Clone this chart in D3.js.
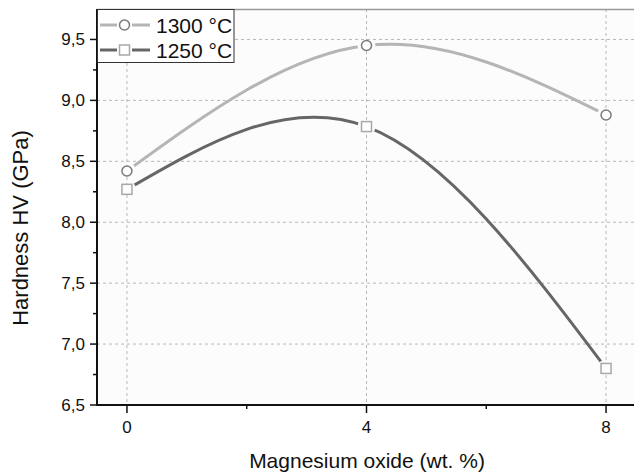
<!DOCTYPE html>
<html><head><meta charset="utf-8">
<script src="https://cdn.jsdelivr.net/npm/d3@7"></script>
<style>body{margin:0;background:#fff}svg{display:block;font-family:"Liberation Sans",Arial,sans-serif}</style>
</head><body>
<svg id="c" width="634" height="472"></svg>
<script>
const xValues = [0, 4, 8];
const series1300 = [8.42, 9.45, 8.88];
const series1250 = [8.27, 8.785, 6.80];
const seriesNames = ["1300 °C", "1250 °C"];
const xTicks = [0, 4, 8];
const xMinorTicks = [2, 6];
const yTicks = [6.5, 7.0, 7.5, 8.0, 8.5, 9.0, 9.5];
const yMinorTicks = [6.75, 7.25, 7.75, 8.25, 8.75, 9.25];
const xTitle = "Magnesium oxide (wt. %)";
const yTitle = "Hardness HV (GPa)";

const svg = d3.select("#c");
const L = 97, R = 636, T = 9, B = 405;
const x = d3.scaleLinear().domain([-0.5, 8.5]).range([L, R]);
const y = d3.scaleLinear().domain([6.5, 9.75]).range([B, T]);
const fmt = d => d3.format(".1f")(d).replace(".", ",");

// plot background
svg.append("rect").attr("x", L).attr("y", T).attr("width", 634 - L).attr("height", B - T).attr("fill", "#fcfcfc");

// grid
const grid = svg.append("g").attr("stroke", "#b8b8b8").attr("stroke-width", 1).attr("stroke-dasharray", "3,3");
yTicks.filter(v => v > 6.5).forEach(v => grid.append("line").attr("x1", L).attr("x2", 634).attr("y1", y(v)).attr("y2", y(v)));
xTicks.forEach(v => grid.append("line").attr("x1", x(v)).attr("x2", x(v)).attr("y1", T).attr("y2", B));

// top frame
svg.append("line").attr("x1", L).attr("x2", 634).attr("y1", T + 0.5).attr("y2", T + 0.5).attr("stroke", "#999").attr("stroke-width", 1.5);

// mask for gaps around markers
const defs = svg.append("defs");
const mask = defs.append("mask").attr("id", "gap").attr("maskUnits", "userSpaceOnUse")
  .attr("x", 0).attr("y", 0).attr("width", 634).attr("height", 472);
mask.append("rect").attr("width", 634).attr("height", 472).attr("fill", "#fff");
[series1300, series1250].forEach(s => s.forEach((v, i) =>
  mask.append("circle").attr("cx", x(xValues[i])).attr("cy", y(v)).attr("r", 9).attr("fill", "#000")));

const line = d3.line().curve(d3.curveNatural).x((d, i) => x(xValues[i])).y(d => y(d));
const lg = svg.append("g").attr("mask", "url(#gap)");
lg.append("path").attr("d", line(series1300)).attr("fill", "none").attr("stroke", "#b5b5b5").attr("stroke-width", 3);
lg.append("path").attr("d", line(series1250)).attr("fill", "none").attr("stroke", "#666").attr("stroke-width", 3);

// markers
series1300.forEach((v, i) => svg.append("circle").attr("cx", x(xValues[i])).attr("cy", y(v)).attr("r", 5)
  .attr("fill", "#fdfdfd").attr("stroke", "#7a7a7a").attr("stroke-width", 1.5));
series1250.forEach((v, i) => svg.append("rect").attr("x", x(xValues[i]) - 5).attr("y", y(v) - 5).attr("width", 10).attr("height", 10)
  .attr("fill", "#fdfdfd").attr("stroke", "#a8a8a8").attr("stroke-width", 1.5));

// axes
const ax = svg.append("g").attr("stroke", "#111");
ax.append("line").attr("x1", L).attr("x2", L).attr("y1", T).attr("y2", B + 1).attr("stroke-width", 2);
ax.append("line").attr("x1", L - 1).attr("x2", 634).attr("y1", B).attr("y2", B).attr("stroke-width", 2);
yTicks.forEach(v => ax.append("line").attr("x1", L - 7).attr("x2", L).attr("y1", y(v)).attr("y2", y(v)).attr("stroke-width", 1.5));
yMinorTicks.forEach(v => ax.append("line").attr("x1", L - 4).attr("x2", L).attr("y1", y(v)).attr("y2", y(v)).attr("stroke-width", 1.5));
xTicks.forEach(v => ax.append("line").attr("x1", x(v)).attr("x2", x(v)).attr("y1", B).attr("y2", B + 8).attr("stroke-width", 1.5));
xMinorTicks.forEach(v => ax.append("line").attr("x1", x(v)).attr("x2", x(v)).attr("y1", B).attr("y2", B + 4).attr("stroke-width", 1.5));

const tl = svg.append("g").attr("fill", "#111").attr("font-size", 17);
yTicks.forEach(v => tl.append("text").attr("x", L - 12).attr("y", y(v) + 6).attr("text-anchor", "end").text(fmt(v)));
xTicks.forEach(v => tl.append("text").attr("x", x(v)).attr("y", B + 28).attr("text-anchor", "middle").text(v));

svg.append("text").attr("x", 367).attr("y", 468).attr("text-anchor", "middle").attr("font-size", 21).attr("fill", "#111").text(xTitle);
svg.append("text").attr("transform", "translate(28,228) rotate(-90)").attr("text-anchor", "middle").attr("font-size", 22).attr("fill", "#111").text(yTitle);

// legend
const leg = svg.append("g");
leg.append("rect").attr("x", 97.5).attr("y", 9.5).attr("width", 136.5).attr("height", 53).attr("fill", "#fff").attr("stroke", "#333").attr("stroke-width", 1);
const legY = [25, 50];
const legCol = ["#b5b5b5", "#666"];
legY.forEach((ly, i) => {
  leg.append("line").attr("x1", 100).attr("x2", 117).attr("y1", ly).attr("y2", ly).attr("stroke", legCol[i]).attr("stroke-width", 3);
  leg.append("line").attr("x1", 132).attr("x2", 150).attr("y1", ly).attr("y2", ly).attr("stroke", legCol[i]).attr("stroke-width", 3);
  if (i === 0) leg.append("circle").attr("cx", 124.5).attr("cy", ly).attr("r", 5).attr("fill", "#fff").attr("stroke", "#7a7a7a").attr("stroke-width", 1.5);
  else leg.append("rect").attr("x", 119.5).attr("y", ly - 5).attr("width", 10).attr("height", 10).attr("fill", "#fff").attr("stroke", "#a8a8a8").attr("stroke-width", 1.5);
  leg.append("text").attr("x", 156).attr("y", ly + 7.5).attr("font-size", 21).attr("fill", "#111").text(seriesNames[i]);
});
</script>
</body></html>
